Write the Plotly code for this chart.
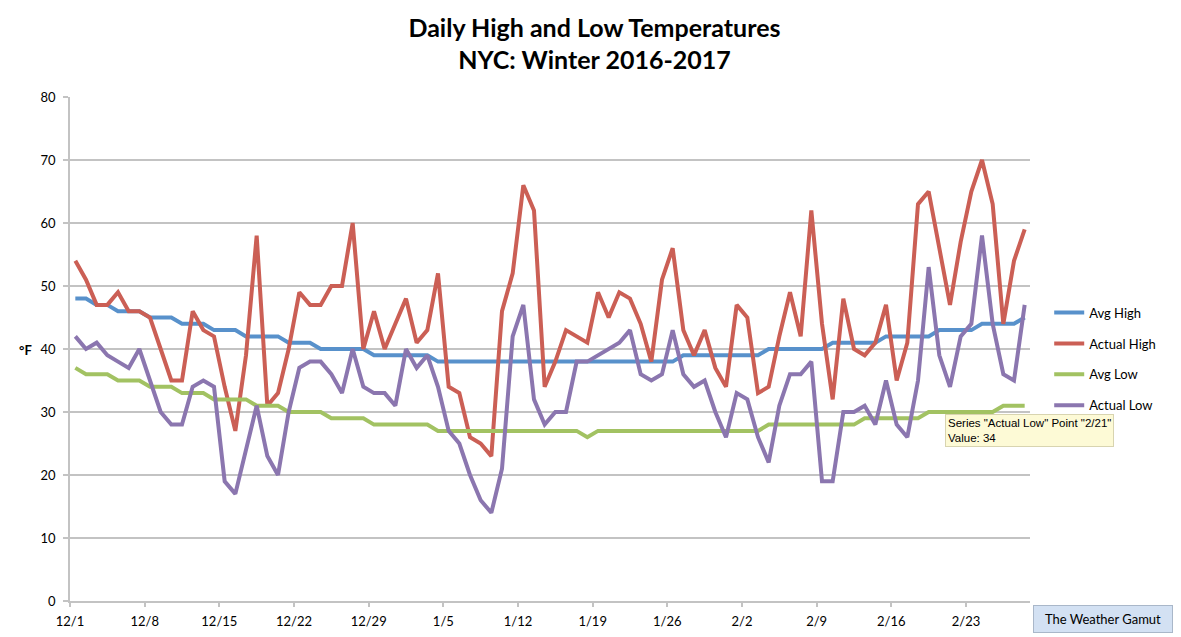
import pandas as pd
import plotly.graph_objects as go

# Daily values, 12/1/2016 through 2/28/2017 (90 days)
start_date = "2016-12-01"
n_days = 90

avg_high = ([48] * 2 + [47] * 2 + [46] * 3 + [45] * 3 + [44] * 3 + [43] * 3
            + [42] * 4 + [41] * 3 + [40] * 5 + [39] * 6 + [38] * 23 + [39] * 8
            + [40] * 6 + [41] * 5 + [42] * 5 + [43] * 4 + [44] * 4 + [45])

actual_high = [54, 51, 47, 47, 49, 46, 46, 45, 40, 35,
               35, 46, 43, 42, 34, 27, 39, 58, 31, 33,
               40, 49, 47, 47, 50, 50, 60, 40, 46, 40,
               44, 48, 41, 43, 52, 34, 33, 26, 25, 23,
               46, 52, 66, 62, 34, 38, 43, 42, 41, 49,
               45, 49, 48, 44, 38, 51, 56, 43, 39, 43,
               37, 34, 47, 45, 33, 34, 42, 49, 42, 62,
               44, 32, 48, 40, 39, 41, 47, 35, 41, 63,
               65, 56, 47, 57, 65, 70, 63, 44, 54, 59]

avg_low = ([37] + [36] * 3 + [35] * 3 + [34] * 3 + [33] * 3 + [32] * 4
           + [31] * 3 + [30] * 4 + [29] * 4 + [28] * 6 + [27] * 14 + [26]
           + [27] * 16 + [28] * 9 + [29] * 6 + [30] * 7 + [31] * 3)

actual_low = [42, 40, 41, 39, 38, 37, 40, 35, 30, 28,
              28, 34, 35, 34, 19, 17, 24, 31, 23, 20,
              30, 37, 38, 38, 36, 33, 40, 34, 33, 33,
              31, 40, 37, 39, 34, 27, 25, 20, 16, 14,
              21, 42, 47, 32, 28, 30, 30, 38, 38, 39,
              40, 41, 43, 36, 35, 36, 43, 36, 34, 35,
              30, 26, 33, 32, 26, 22, 31, 36, 36, 38,
              19, 19, 30, 30, 31, 28, 35, 28, 26, 35,
              53, 39, 34, 42, 44, 58, 44, 36, 35, 47]

tick_labels = ["12/1", "12/8", "12/15", "12/22", "12/29", "1/5", "1/12",
               "1/19", "1/26", "2/2", "2/9", "2/16", "2/23"]

# each day's point sits in the middle of its category slot, as in Excel
days = pd.date_range(start_date, periods=n_days, freq="D") + pd.Timedelta(hours=12)
tick_dates = pd.date_range(start_date, periods=len(tick_labels), freq="7D")

series = [
    ("Avg High", avg_high, "#5891CB"),
    ("Actual High", actual_high, "#CB5F55"),
    ("Avg Low", avg_low, "#A2C262"),
    ("Actual Low", actual_low, "#8B76AF"),
]

FONT = "Lato"
GRID = "#C3C3C3"

fig = go.Figure()
for name, vals, color in series:
    fig.add_trace(go.Scatter(
        x=days, y=vals, name=name, mode="lines", legendgroup=name,
        line=dict(color=color, width=4),
    ))

# page body adds an 8px margin, so the figure is 8px smaller than the window
fig.update_layout(
    width=1173, height=629,
    margin=dict(l=62, r=151, t=89, b=36),
    paper_bgcolor="white", plot_bgcolor="white",
    font=dict(family=FONT, size=13, color="black"),
    title=dict(
        text="<b>Daily High and Low Temperatures<br>NYC: Winter 2016-2017</b>",
        x=0.5, xanchor="center", y=0.954, yanchor="middle",
        font=dict(family=FONT, size=25, color="black"),
    ),
    legend=dict(
        x=1.02, xanchor="left", y=0.48, yanchor="middle",
        tracegroupgap=11, font=dict(size=13),
        bgcolor="rgba(0,0,0,0)",
    ),
    showlegend=True,
)

fig.update_xaxes(
    range=[pd.Timestamp(start_date), pd.Timestamp(start_date) + pd.Timedelta(days=n_days)],
    tickvals=tick_dates, ticktext=tick_labels,
    showgrid=False, showline=True, linecolor=GRID, linewidth=1.5,
    ticks="outside", ticklen=4, tickcolor=GRID, tickwidth=1.5,
    tickfont=dict(size=13), ticklabelstandoff=4, zeroline=False,
    automargin=False,
)
fig.update_yaxes(
    range=[0, 80], dtick=10,
    showgrid=True, gridcolor=GRID, gridwidth=1.5,
    showline=True, linecolor=GRID, linewidth=1.5,
    ticks="outside", ticklen=5, tickcolor=GRID, tickwidth=1.5,
    tickfont=dict(size=13), ticklabelstandoff=5, zeroline=False,
    automargin=False,
)

# axis unit label, horizontal as in the original
fig.add_annotation(
    text="<b>°F</b>", xref="paper", yref="paper", x=-0.055, y=0.498,
    showarrow=False, font=dict(size=13),
)

# hover tooltip captured in the screenshot
fig.add_annotation(
    text='Series "Actual Low" Point "2/21"<br>Value: 34',
    xref="paper", yref="paper", x=0.9115, y=0.371,
    xanchor="left", yanchor="top", align="left", showarrow=False,
    font=dict(family="Liberation Sans", size=11.5, color="black"),
    bgcolor="#FDFAD6", bordercolor="#D8D4B0", borderwidth=1, borderpad=2,
)

# credit box
fig.add_annotation(
    text="The Weather Gamut", xref="paper", yref="paper",
    x=1.076, y=-0.036, xanchor="center", yanchor="middle",
    showarrow=False, width=136, height=24,
    font=dict(size=13), bgcolor="#D3E1F3", bordercolor="#A9B7C9", borderwidth=1,
)

fig.write_html("out.html")
